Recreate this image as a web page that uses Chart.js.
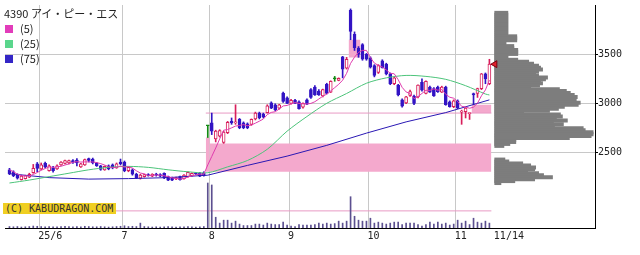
<!DOCTYPE html>
<html lang="ja"><head><meta charset="utf-8">
<script src="https://cdn.jsdelivr.net/npm/chart.js@4.4.1/dist/chart.umd.min.js"></script>
<style>
html,body{margin:0;padding:0;background:#fff;}
#wrap{position:relative;width:640px;height:255px;overflow:hidden;background:#fff;}
#c{position:absolute;left:0;top:0;}
.t{position:absolute;font-family:'Noto Sans CJK JP',sans-serif;font-size:11px;line-height:13px;color:#222;white-space:nowrap;}
.sq{position:absolute;left:5px;width:8px;height:8px;}
#copy{position:absolute;left:3px;top:203px;height:11px;padding:0 3px 0 2px;background:#f0cf22;font-family:'DejaVu Sans Mono',monospace;font-size:10px;line-height:11px;color:#333;white-space:nowrap;}
</style></head><body>
<div id="wrap"><canvas id="c" width="640" height="255"></canvas></div>
<script>
// ---------- data ----------
const title = '4390 アイ・ピー・エス';
const maNames = ['(5)', '(25)', '(75)'];
const copyright = '(C) KABUDRAGON.COM';
const tickLabels = ['25/6', '7', '8', '9', '10', '11', '11/14'];
const yTicks = [2500, 3000, 3500];

const dates = [
 '5/21','5/22','5/23','5/26','5/27','5/28','5/29','5/30',
 '6/2','6/3','6/4','6/5','6/6','6/9','6/10','6/11','6/12','6/13','6/16','6/17','6/18','6/19','6/20','6/23','6/24','6/25','6/26','6/27','6/30',
 '7/1','7/2','7/3','7/4','7/7','7/8','7/9','7/10','7/11','7/14','7/15','7/16','7/17','7/18','7/22','7/23','7/24','7/25','7/28','7/29','7/30','7/31',
 '8/1','8/4','8/5','8/6','8/7','8/8','8/12','8/13','8/14','8/15','8/18','8/19','8/20','8/21','8/22','8/25','8/26','8/27','8/28','8/29',
 '9/1','9/2','9/3','9/4','9/5','9/8','9/9','9/10','9/11','9/12','9/16','9/17','9/18','9/19','9/22','9/24','9/25','9/26','9/29','9/30',
 '10/1','10/2','10/3','10/6','10/7','10/8','10/9','10/10','10/14','10/15','10/16','10/17','10/20','10/21','10/22','10/23','10/24','10/27','10/28','10/29','10/30','10/31',
 '11/4','11/5','11/6','11/7','11/10','11/11','11/12','11/13','11/14'
];

const opens = [2320,2300,2270,2220,2230,2245,2290,2380,2330,2385, 2310,2340,2330,2370,2385,2390,2415,2420,2350,2370,
 2435,2430,2385,2360,2320,2360,2370,2340,2400,2400, 2310,2320,2275,2235,2250,2270,2255,2275,2270,2285,
 2250,2240,2230,2250,2230,2250,2260,2285,2285,2290, 2770,2800,2635,2665,2600,2700,2815,2800,2835,2800,
 2790,2785,2840,2900,2890,2905,3005,2985,2950,3105, 3055,3000,3030,3015,2960,3035,3140,3165,3125,3075,
 3195,3115,3250,3235,3475,3360,3950,3705,3565,3600, 3500,3465,3385,3315,3435,3400,3300,3200,3185,3035,
 3005,3080,3070,3065,3215,3100,3165,3150,3165,3115, 3165,3015,2965,3025,2910,2915,2895,3100,3100,3150,
 3300,3200];
const highs = [2335,2310,2280,2265,2265,2285,2375,2395,2390,2400, 2370,2355,2370,2405,2420,2420,2425,2435,2385,2430,
 2440,2440,2395,2365,2360,2370,2380,2390,2430,2410, 2350,2330,2285,2275,2275,2280,2280,2285,2280,2290,
 2255,2245,2245,2255,2270,2300,2290,2295,2295,2300, 2775,2900,2725,2730,2715,2815,2850,2985,2845,2810,
 2800,2840,2910,2910,2900,2985,3015,2995,2990,3115, 3065,3040,3040,3025,3005,3045,3150,3180,3140,3145,
 3205,3230,3275,3260,3480,3470,3965,3730,3580,3610, 3510,3475,3395,3395,3445,3410,3310,3265,3195,3045,
 3070,3135,3085,3190,3250,3230,3175,3160,3175,3175, 3175,3025,3035,3035,2930,2955,2900,3105,3155,3305,
 3310,3450];
const lows = [2270,2250,2225,2215,2225,2240,2285,2300,2320,2340, 2305,2295,2325,2365,2380,2380,2385,2360,2345,2365,
 2400,2380,2355,2315,2315,2320,2330,2335,2370,2300, 2300,2265,2230,2225,2245,2255,2250,2255,2250,2230,
 2210,2210,2220,2215,2225,2245,2255,2270,2250,2255, 2650,2680,2605,2655,2590,2690,2785,2785,2740,2740,
 2740,2775,2830,2840,2850,2900,2945,2925,2940,3010, 2995,2990,2995,2940,2950,2985,3050,3080,3080,3065,
 3095,3110,3225,3230,3260,3350,3650,3540,3470,3440, 3440,3360,3270,3305,3360,3290,3190,3190,3075,2960,
 2995,3070,2985,3055,3125,3095,3110,3070,3110,3110, 2980,2960,2955,2945,2785,2850,2835,2985,3060,3140,
 3200,3190];
const closes = [2280,2260,2235,2255,2260,2275,2335,2335,2370,2350, 2360,2310,2360,2400,2415,2415,2395,2390,2380,2425,
 2415,2390,2360,2325,2355,2330,2340,2380,2380,2310, 2345,2275,2240,2265,2270,2260,2275,2265,2255,2240,
 2215,2215,2235,2220,2265,2295,2285,2280,2255,2260, 2770,2715,2715,2720,2705,2805,2800,2805,2750,2750,
 2750,2835,2900,2850,2860,2975,2950,2935,2985,3020, 3000,3030,3000,2945,3000,2990,3060,3085,3085,3140,
 3100,3225,3250,3255,3350,3450,3735,3570,3500,3450, 3450,3370,3285,3385,3365,3300,3200,3260,3085,2970,
 3065,3120,3000,3185,3135,3225,3115,3075,3120,3165, 2985,2965,3025,2950,2920,2950,2900,3085,3150,3300,
 3250,3400];
const volumes = [30,25,30,20,25,30,40,35,30,25, 30,25,25,30,35,30,25,30,25,35,
 30,25,25,30,25,20,25,30,35,45, 30,35,30,100,30,25,20,25,20,25,
 30,25,20,25,25,30,25,20,25,30, 920,880,220,100,160,160,100,140,80,50,
 50,50,80,80,60,100,80,70,70,120, 60,40,30,70,60,60,60,70,100,80,
 100,80,90,140,100,140,640,240,160,140, 140,200,100,120,100,80,100,120,120,70,
 100,100,100,70,40,70,120,80,120,80, 100,60,80,160,100,140,70,200,120,100,
 140,100];
const volRef = 350;

const ma5 = [2320,2300,2275,2260,2258,2257,2272,2292,2315,2333, 2350,2345,2350,2356,2369,2380,2397,2403,2399,2401,
 2401,2400,2394,2383,2369,2352,2342,2346,2357,2348, 2351,2338,2310,2287,2279,2262,2262,2267,2265,2259,
 2250,2238,2232,2225,2230,2246,2260,2269,2276,2275, 2370,2456,2543,2636,2725,2732,2749,2767,2773,2782,
 2771,2778,2797,2817,2839,2884,2907,2914,2941,2973, 2978,2994,3007,2999,2995,2993,2999,3016,3044,3072,
 3094,3127,3160,3194,3236,3306,3408,3472,3521,3541, 3541,3468,3411,3388,3371,3341,3307,3302,3242,3163,
 3116,3100,3048,3068,3101,3133,3132,3147,3134,3140, 3092,3062,3052,3018,2969,2962,2949,2961,3001,3077,
 3137,3237];
const ma25Idx = [0,5,10,15,20,25,30,35,40,45,50,55,60,65,70,75,80,85,90,95,100,105,110,115,120,121];
const ma25 = [2185,2215,2250,2285,2320,2345,2355,2345,2320,2300,2290,2350,2415,2530,2715,2865,3000,3100,3205,3260,3285,3275,3245,3180,3095,3085];
const ma75Idx = [0,10,20,30,40,50,60,70,80,90,100,110,121];
const ma75 = [2280,2240,2225,2230,2240,2265,2365,2460,2570,2695,2810,2905,3035];

// price gaps (windows): first index, last index, low, high
const gapStart = [50, 51, 86, 117];
const gapEnd = [50, 121, 88, 121];
const gapLow = [2300, 2300, 3467, 2900];
const gapHigh = [2650, 2590, 3650, 2985];
const resistPrice = 2900;
const resistFrom = 50;

// volume by price
const profLevel = [3940,3920,3900,3880,3860,3840,3820,3800,3780,3760,3740,3720,3700,3680,3660,3640,3620,3600,3580,3560,
 3540,3520,3500,3480,3460,3440,3420,3400,3380,3360,3340,3320,3300,3280,3260,3240,3220,3200,3180,3160,
 3140,3120,3100,3080,3060,3040,3020,3000,2980,2960,2940,2920,2900,2880,2860,2840,2820,2800,2780,2760,
 2740,2720,2700,2680,2660,2640,2620,2600,2580,
 2440,2420,2400,2380,2360,2340,2320,2300,2280,2260,2240,2220,2200];
const profVol = [13,13,13,13,13,13,13,13,13,13,13,13,22,22,22,11,11,19,19,23,
 23,23,13,13,23,34,39,44,46,48,44,41,44,53,51,46,48,45,36,65,
 72,76,80,83,79,82,86,84,70,64,55,29,66,68,62,73,59,69,60,89,
 91,99,99,97,75,21,21,15,9,
 10,14,28,36,41,40,33,44,49,58,40,20,6];

// ---------- html texts ----------
const wrap = document.getElementById('wrap');
function addDiv(cls, css, text) {
  const d = document.createElement('div');
  if (cls) d.className = cls;
  if (cls === null) d.id = 'copy';
  d.style.cssText = css;
  if (text) d.textContent = text;
  wrap.appendChild(d);
  return d;
}
const maColors = ['#e23cba', '#5ad68c', '#3426c6'];
addDiv('t', 'left:4px;top:7px', title);
maNames.forEach((n, k) => {
  addDiv('sq', 'top:' + (25 + 15 * k) + 'px;background:' + maColors[k]);
  addDiv('t', 'left:20px;top:' + (22 + 15 * k) + 'px', n);
});
addDiv(null, '', copyright);

// ---------- chart ----------
Chart.defaults.font.family = "'DejaVu Sans Mono', monospace";
Chart.defaults.font.size = 10;
Chart.defaults.color = '#222';

const N = dates.length;
const UP = '#d81e5b', DOWN = '#3214c4', DOJI = '#138a13';
const dir = closes.map((c, i) => c > opens[i] ? 1 : (c < opens[i] ? -1 : 0));
const candleCol = dir.map(d => d > 0 ? UP : (d < 0 ? DOWN : DOJI));
const bodyFill = dir.map((d, i) => d > 0 ? '#ffffff' : candleCol[i]);

const monthOf = s => s.split('/')[0];
const xTicks = [];
for (let i = 1; i < N; i++) if (monthOf(dates[i]) !== monthOf(dates[i - 1])) xTicks.push(i - 0.5);
xTicks.push(N + 0.375);

const PINK = '#f4a9cd', PINKLINE = '#e89ac4';
const datasets = [];
gapStart.forEach((s, k) => {
  datasets.push({type: 'line', order: 10, xAxisID: 'x', yAxisID: 'y',
    data: [{x: s - 0.5, y: gapHigh[k]}, {x: gapEnd[k] + 0.5, y: gapHigh[k]}],
    fill: {value: gapLow[k]}, backgroundColor: PINK, borderColor: 'rgba(0,0,0,0)', borderWidth: 1, pointRadius: 0});
});
datasets.push({type: 'line', order: 9, xAxisID: 'x', yAxisID: 'y',
  data: [{x: resistFrom - 0.5, y: resistPrice}, {x: N - 0.5, y: resistPrice}],
  borderColor: PINKLINE, borderWidth: 1, pointRadius: 0, fill: false});
datasets.push({type: 'line', order: 9, xAxisID: 'x', yAxisID: 'yv',
  data: [{x: -1.125, y: volRef}, {x: N - 0.5, y: volRef}],
  borderColor: PINKLINE, borderWidth: 1, pointRadius: 0, fill: false});
datasets.push({type: 'bar', order: 8, xAxisID: 'x', yAxisID: 'yv', grouped: false,
  data: volumes.map((v, i) => ({x: i, y: v})), backgroundColor: '#5c5090', barThickness: 1, borderWidth: 0});
datasets.push({type: 'bar', indexAxis: 'y', order: 8, xAxisID: 'xp', yAxisID: 'y', grouped: true,
  data: profLevel.map((p, k) => ({x: profVol[k], y: p})), backgroundColor: '#7d7d7d',
  barThickness: 3, maxBarThickness: 3, borderWidth: 0, inflateAmount: 0.5});
datasets.push({type: 'bar', order: 4, xAxisID: 'x', yAxisID: 'y', grouped: false,
  data: dates.map((d, i) => ({x: i, y: [lows[i], highs[i]]})), backgroundColor: candleCol, barThickness: 1, borderWidth: 0});
datasets.push({type: 'bar', order: 3, xAxisID: 'x', yAxisID: 'y', grouped: false,
  data: dates.map((d, i) => ({x: i, y: [opens[i], closes[i]]})), backgroundColor: bodyFill, borderColor: candleCol,
  borderWidth: 1, borderSkipped: false, barThickness: 3, minBarLength: 1});
datasets.push({type: 'line', order: 2, xAxisID: 'x', yAxisID: 'y',
  data: ma75Idx.map((k, j) => ({x: k, y: ma75[j]})), borderColor: '#2a18b4', borderWidth: 1, pointRadius: 0, fill: false, tension: 0});
datasets.push({type: 'line', order: 1, xAxisID: 'x', yAxisID: 'y',
  data: ma25Idx.map((k, j) => ({x: k, y: ma25[j]})), borderColor: '#4cc47a', borderWidth: 1, pointRadius: 0, fill: false, tension: 0.3});
datasets.push({type: 'line', order: 0, xAxisID: 'x', yAxisID: 'y',
  data: ma5.map((v, i) => ({x: i, y: v})), borderColor: '#e03cae', borderWidth: 1, pointRadius: 0, fill: false, tension: 0});
datasets.push({type: 'line', order: 0, xAxisID: 'x', yAxisID: 'y', showLine: false,
  data: [{x: N + 0.375, y: closes[N - 1]}], pointStyle: 'triangle', rotation: -90, pointRadius: 4,
  pointBackgroundColor: '#e0202c', pointBorderColor: '#7a0010', pointBorderWidth: 1});

const GRID = '#c8c8c8';
new Chart(document.getElementById('c'), {
  type: 'bar',
  data: {datasets},
  options: {
    responsive: false, animation: false, devicePixelRatio: 1, events: [],
    layout: {padding: 0},
    plugins: {legend: {display: false}, tooltip: {enabled: false}},
    scales: {
      x: {type: 'linear', position: 'bottom', min: -1.125, max: 147.625, offset: false, beginAtZero: false,
        grid: {offset: false, drawTicks: false, color: c => (c.index === xTicks.length - 1 ? 'rgba(0,0,0,0)' : GRID)},
        border: {display: true, color: '#000', width: 1},
        ticks: {autoSkip: false, maxRotation: 0, minRotation: 0, align: 'start', labelOffset: -1, padding: 2,
          color: '#222', font: {size: 10}, callback: (v, i) => tickLabels[i]},
        afterBuildTicks: s => { s.ticks = xTicks.map(v => ({value: v})); },
        afterFit: s => { s.height = 27; s.paddingLeft = 0; s.paddingRight = 0; s.paddingTop = 0; s.paddingBottom = 0; }
      },
      y: {type: 'linear', position: 'right', min: 1725, max: 4005, offset: false, beginAtZero: false,
        grid: {offset: false, color: GRID, tickLength: 3, tickColor: '#000'},
        border: {display: true, color: '#000', width: 1},
        ticks: {padding: 0, color: '#222', font: {size: 10}, callback: v => String(v)},
        afterBuildTicks: s => { s.ticks = yTicks.map(v => ({value: v})); },
        afterFit: s => { s.width = 45; s.paddingLeft = 0; s.paddingRight = 0; s.paddingTop = 0; s.paddingBottom = 0; }
      },
      yv: {type: 'linear', axis: 'y', display: false, min: 0, max: 4560, offset: false, grid: {offset: false}},
      xp: {type: 'linear', axis: 'x', display: false, min: -494, max: 101, offset: false, grid: {offset: false}}
    }
  }
});
</script>
</body></html>
